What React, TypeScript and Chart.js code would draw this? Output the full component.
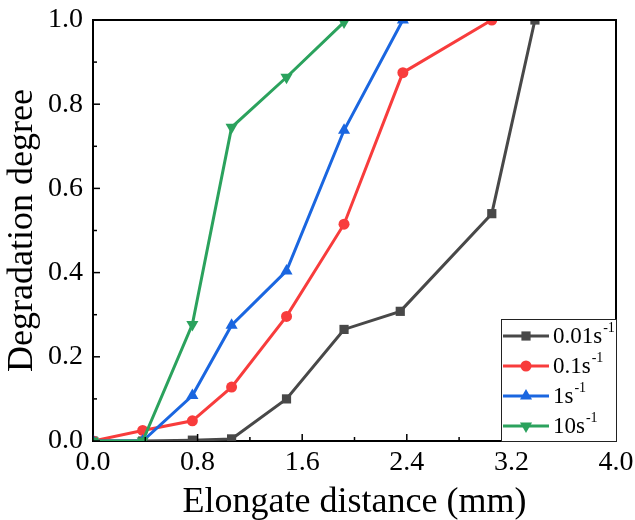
import { useEffect, useRef } from 'react';
import { Chart, registerables } from 'chart.js';

Chart.register(...registerables);

const FAM = "'Liberation Serif', 'Times New Roman', serif";

const seriesLabels = ['0.01', '0.1', '1', '10'];
const seriesColors = ['#484848', '#f83c3c', '#1a66e0', '#2ba25d'];

const x001 = [0, 0.38, 0.76, 1.06, 1.48, 1.92, 2.35, 3.05, 3.38];
const y001 = [0, 0, 0.002, 0.005, 0.1, 0.265, 0.308, 0.54, 1.0];
const x01 = [0, 0.38, 0.76, 1.06, 1.48, 1.92, 2.37, 3.05];
const y01 = [0, 0.025, 0.048, 0.128, 0.296, 0.515, 0.875, 1.0];
const x1 = [0, 0.38, 0.76, 1.06, 1.48, 1.92, 2.37];
const y1 = [0, 0, 0.108, 0.275, 0.404, 0.738, 1.0];
const x10 = [0, 0.38, 0.76, 1.06, 1.48, 1.92];
const y10 = [0, 0, 0.277, 0.745, 0.864, 0.995];

const xTitle = 'Elongate distance (mm)';
const yTitle = 'Degradation degree';

const toPts = (xs: number[], ys: number[]) => xs.map((x, i) => ({ x, y: ys[i] }));

const markerStyles = ['rect', 'circle', 'triangle', 'triangle'];
const markerRot = [0, 0, 0, 180];
const markerRad = [6.5, 5.5, 7, 7];

function drawMarker(ctx: CanvasRenderingContext2D, kind: number, x: number, y: number, color: string) {
  ctx.save();
  ctx.fillStyle = color;
  ctx.beginPath();
  if (kind === 0) {
    const s = markerRad[0] * Math.SQRT1_2;
    ctx.rect(x - s, y - s, 2 * s, 2 * s);
  } else if (kind === 1) {
    ctx.arc(x, y, markerRad[1], 0, Math.PI * 2);
  } else {
    const r = markerRad[kind];
    const dir = kind === 3 ? -1 : 1;
    ctx.moveTo(x, y - dir * r);
    ctx.lineTo(x - r * 0.866, y + dir * r * 0.5);
    ctx.lineTo(x + r * 0.866, y + dir * r * 0.5);
    ctx.closePath();
  }
  ctx.fill();
  ctx.restore();
}

const decor = {
  id: 'decor',
  afterDraw(chart: any) {
    const { ctx, chartArea } = chart;
    const { left, right, top, bottom } = chartArea;
    ctx.save();
    ctx.strokeStyle = '#000';
    ctx.lineWidth = 2;
    ctx.beginPath();
    ctx.moveTo(left - 1, top);
    ctx.lineTo(right, top);
    ctx.lineTo(right, bottom + 1);
    ctx.stroke();
    ctx.lineWidth = 1.5;
    const xs = chart.scales.x;
    xs.ticks.forEach((t: any, i: number) => {
      const px = xs.getPixelForValue(t.value);
      const len = i % 2 === 0 ? 7 : 4;
      ctx.beginPath();
      ctx.moveTo(px, bottom);
      ctx.lineTo(px, bottom - len);
      ctx.stroke();
    });
    const ys = chart.scales.y;
    ys.ticks.forEach((t: any, i: number) => {
      const py = ys.getPixelForValue(t.value);
      const len = i % 2 === 0 ? 7 : 4;
      ctx.beginPath();
      ctx.moveTo(left, py);
      ctx.lineTo(left + len, py);
      ctx.stroke();
    });
    const lx0 = right - 115;
    const ly0 = bottom - 122;
    ctx.fillStyle = '#fff';
    ctx.fillRect(lx0, ly0, right - lx0, bottom - ly0);
    ctx.strokeStyle = '#222';
    ctx.lineWidth = 1;
    ctx.strokeRect(lx0 + 0.5, ly0 + 0.5, right - lx0, bottom - ly0);
    seriesLabels.forEach((lab, i) => {
      const yy = ly0 + 17 + i * 30;
      ctx.strokeStyle = seriesColors[i];
      ctx.lineWidth = 3;
      ctx.beginPath();
      ctx.moveTo(lx0 + 2, yy);
      ctx.lineTo(lx0 + 48, yy);
      ctx.stroke();
      drawMarker(ctx, i, lx0 + 25, yy, seriesColors[i]);
      ctx.fillStyle = '#000';
      ctx.textBaseline = 'middle';
      ctx.textAlign = 'left';
      ctx.font = `23px ${FAM}`;
      const txt = lab + 's';
      ctx.fillText(txt, lx0 + 52, yy + 1);
      const w = ctx.measureText(txt).width;
      ctx.font = `14px ${FAM}`;
      ctx.fillText('-1', lx0 + 52 + w + 1, yy - 8);
    });
    ctx.restore();
  },
};

export default function App() {
  const ref = useRef<HTMLCanvasElement | null>(null);
  useEffect(() => {
    if (!ref.current) return;
    const datasets = [
      toPts(x001, y001),
      toPts(x01, y01),
      toPts(x1, y1),
      toPts(x10, y10),
    ].map((data, i) => ({
      label: seriesLabels[i] + 's-1',
      data,
      borderColor: seriesColors[i],
      backgroundColor: seriesColors[i],
      borderWidth: 3,
      pointStyle: markerStyles[i] as any,
      rotation: markerRot[i],
      pointRadius: markerRad[i],
      pointBorderWidth: 0,
      order: 4 - i,
      tension: 0,
    }));
    const chart = new Chart(ref.current, {
      type: 'line',
      data: { datasets },
      plugins: [decor],
      options: {
        responsive: false,
        animation: false,
        layout: { padding: { top: 20, right: 19, left: 0, bottom: 0 } },
        plugins: { legend: { display: false }, tooltip: { enabled: false } },
        scales: {
          x: {
            type: 'linear',
            min: 0,
            max: 4,
            ticks: {
              stepSize: 0.4,
              autoSkip: false,
              maxRotation: 0,
              padding: 5,
              color: '#000',
              font: { family: FAM, size: 28 },
              callback: (v: any, i: number) => (i % 2 === 0 ? Number(v).toFixed(1) : ''),
            },
            grid: { drawOnChartArea: false, drawTicks: false },
            border: { color: '#000', width: 2 },
            title: {
              display: true,
              text: xTitle,
              color: '#000',
              font: { family: FAM, size: 36 },
              padding: { top: 0, bottom: -4 },
            },
            afterFit: (s: any) => {
              s.height = 79;
              s.paddingLeft = 0;
              s.paddingRight = 0;
            },
          },
          y: {
            min: 0,
            max: 1,
            ticks: {
              stepSize: 0.1,
              autoSkip: false,
              padding: 10,
              color: '#000',
              font: { family: FAM, size: 28 },
              callback: (v: any, i: number) => (i % 2 === 0 ? Number(v).toFixed(1) : ''),
            },
            grid: { drawOnChartArea: false, drawTicks: false },
            border: { color: '#000', width: 2 },
            title: {
              display: true,
              text: yTitle,
              color: '#000',
              font: { family: FAM, size: 36 },
              padding: { top: 1, bottom: 0 },
            },
            afterFit: (s: any) => {
              s.width = 93;
              s.paddingTop = 0;
              s.paddingBottom = 0;
            },
          },
        },
      },
    });
    return () => chart.destroy();
  }, []);
  return (
    <div style={{ position: 'absolute', left: 0, top: 0, width: 635, height: 520 }}>
      <canvas ref={ref} width={635} height={520} />
    </div>
  );
}
